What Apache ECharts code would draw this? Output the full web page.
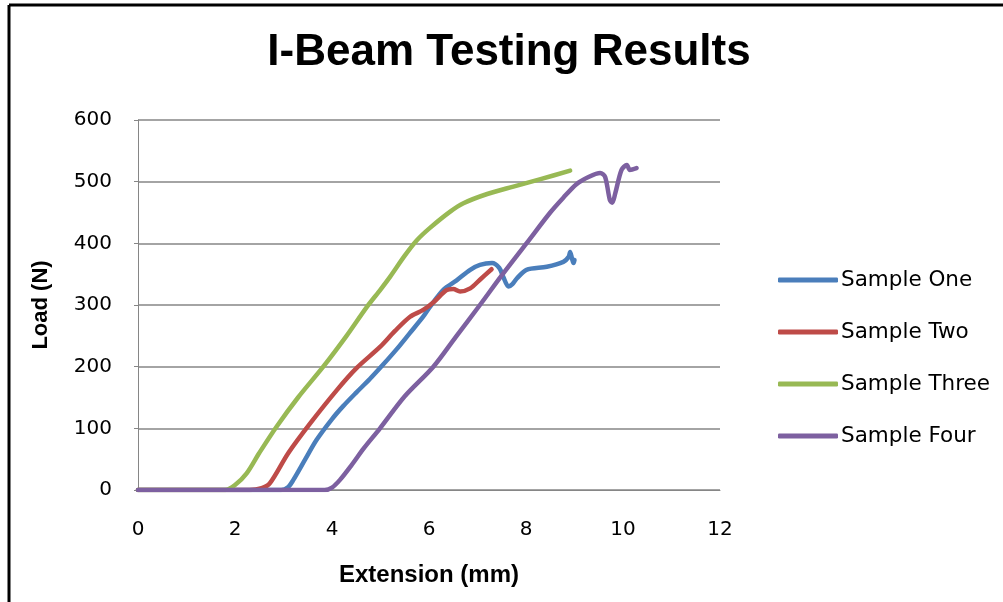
<!DOCTYPE html>
<html>
<head>
<meta charset="utf-8">
<title>I-Beam Testing Results</title>
<script src="https://cdn.jsdelivr.net/npm/echarts@6/dist/echarts.min.js"></script>
<style>
  html, body { margin: 0; padding: 0; background: #fff; }
  #chart { width: 1003px; height: 602px; }
</style>
</head>
<body>
<div id="chart"></div>
<script>
// Load (N) against extension (mm) for each I-beam sample: [extension, load]
const sampleOne = [
  [0, 0], [2.95, 0], [3.1, 5], [3.2, 16], [3.45, 50], [3.68, 81], [4.0, 115],
  [4.23, 136], [4.5, 158], [4.78, 180], [5.05, 203], [5.33, 228], [5.6, 254],
  [5.88, 281], [6.02, 297], [6.3, 325], [6.57, 340], [6.85, 357], [7.05, 365],
  [7.3, 368], [7.45, 360], [7.53, 346], [7.64, 330], [7.72, 334], [7.81, 343],
  [8.01, 357], [8.43, 362], [8.77, 370], [8.88, 378], [8.91, 386], [8.95, 375],
  [8.98, 368], [9.0, 373]
];
const sampleTwo = [
  [0, 0], [2.3, 0], [2.55, 3], [2.72, 11], [3.1, 60], [3.55, 108], [4.1, 162],
  [4.51, 198], [4.99, 232], [5.3, 258], [5.61, 281], [5.88, 292], [6.1, 305],
  [6.36, 324], [6.5, 326], [6.64, 322], [6.85, 327], [7.05, 341], [7.29, 358]
];
const sampleThree = [
  [0, 0], [1.8, 0], [2.0, 8], [2.24, 27], [2.5, 60], [2.86, 103], [3.3, 150],
  [3.82, 200], [4.3, 250], [4.72, 297], [5.0, 325], [5.2, 346], [5.5, 380],
  [5.75, 405], [6.02, 425], [6.43, 451], [6.71, 465], [7.2, 480], [7.74, 492],
  [8.3, 504], [8.91, 518]
];
const sampleFour = [
  [0, 0], [3.85, 0], [4.0, 4], [4.16, 16], [4.4, 40], [4.65, 67], [4.99, 100],
  [5.5, 152], [6.09, 200], [6.55, 248], [7.05, 300], [7.5, 348], [8.01, 400],
  [8.5, 450], [8.77, 474], [9.04, 496], [9.3, 508], [9.53, 514], [9.63, 508],
  [9.73, 470], [9.78, 466], [9.84, 481], [9.97, 519], [10.08, 527],
  [10.14, 519], [10.28, 522]
];

const seriesNames = ['Sample One', 'Sample Two', 'Sample Three', 'Sample Four'];
const seriesData = [sampleOne, sampleTwo, sampleThree, sampleFour];
const seriesColors = ['#4A7EBB', '#BE4B48', '#98B954', '#7D60A0'];

const xTicks = { min: 0, max: 12, interval: 2 };
const yTicks = { min: 0, max: 600, interval: 100 };

const labelFont = "'DejaVu Sans', Verdana, sans-serif";
const titleFont = "'Liberation Sans', Arial, sans-serif";

const chart = echarts.init(document.getElementById('chart'), null, { renderer: 'canvas' });

chart.setOption({
  backgroundColor: '#ffffff',
  animation: false,
  title: {
    text: 'I-Beam Testing Results',
    left: 509,
    textAlign: 'center',
    top: 31,
    padding: 0,
    textStyle: { fontFamily: titleFont, fontWeight: 'bold', fontSize: 44, color: '#000' }
  },
  legend: {
    orient: 'vertical',
    left: 778,
    top: 269,
    padding: 0,
    itemWidth: 60,
    itemHeight: 5,
    itemGap: 30,
    icon: 'roundRect',
    data: seriesNames,
    textStyle: { fontFamily: labelFont, fontSize: 21.5, color: '#000', lineHeight: 22, padding: [0, 0, 0, -2] }
  },
  grid: { left: 138, right: 283, top: 120, bottom: 112, containLabel: false },
  xAxis: {
    type: 'value',
    min: xTicks.min, max: xTicks.max, interval: xTicks.interval,
    name: 'Extension (mm)',
    nameLocation: 'middle',
    nameGap: 73,
    nameTextStyle: { fontFamily: titleFont, fontWeight: 'bold', fontSize: 24, color: '#000' },
    axisLine: { show: true, lineStyle: { color: '#868686', width: 1 } },
    axisTick: { show: false },
    axisLabel: { fontFamily: labelFont, fontSize: 20, color: '#000', margin: 30 },
    splitLine: { show: false }
  },
  yAxis: {
    type: 'value',
    min: yTicks.min, max: yTicks.max, interval: yTicks.interval,
    name: 'Load (N)',
    nameLocation: 'middle',
    nameGap: 86,
    nameTextStyle: { fontFamily: titleFont, fontWeight: 'bold', fontSize: 22, color: '#000' },
    axisLine: { show: true, lineStyle: { color: '#868686', width: 1 } },
    axisTick: { show: true, length: 4, lineStyle: { color: '#868686' } },
    axisLabel: { fontFamily: labelFont, fontSize: 20, color: '#000', margin: 26 },
    splitLine: { show: true, lineStyle: { color: '#868686', width: 1.5 } }
  },
  series: seriesData.map((d, i) => ({
    name: seriesNames[i],
    type: 'line',
    data: d,
    smooth: 0.3,
    showSymbol: false,
    symbol: 'none',
    lineStyle: { width: 4.5, color: seriesColors[i], cap: 'round', join: 'round' },
    itemStyle: { color: seriesColors[i] }
  })),
  graphic: [
    { type: 'line', shape: { x1: 9, y1: 5, x2: 1003, y2: 5 }, style: { stroke: '#000', lineWidth: 3 } },
    { type: 'line', shape: { x1: 9, y1: 5, x2: 9, y2: 602 }, style: { stroke: '#000', lineWidth: 3 } }
  ]
});
</script>
</body>
</html>
